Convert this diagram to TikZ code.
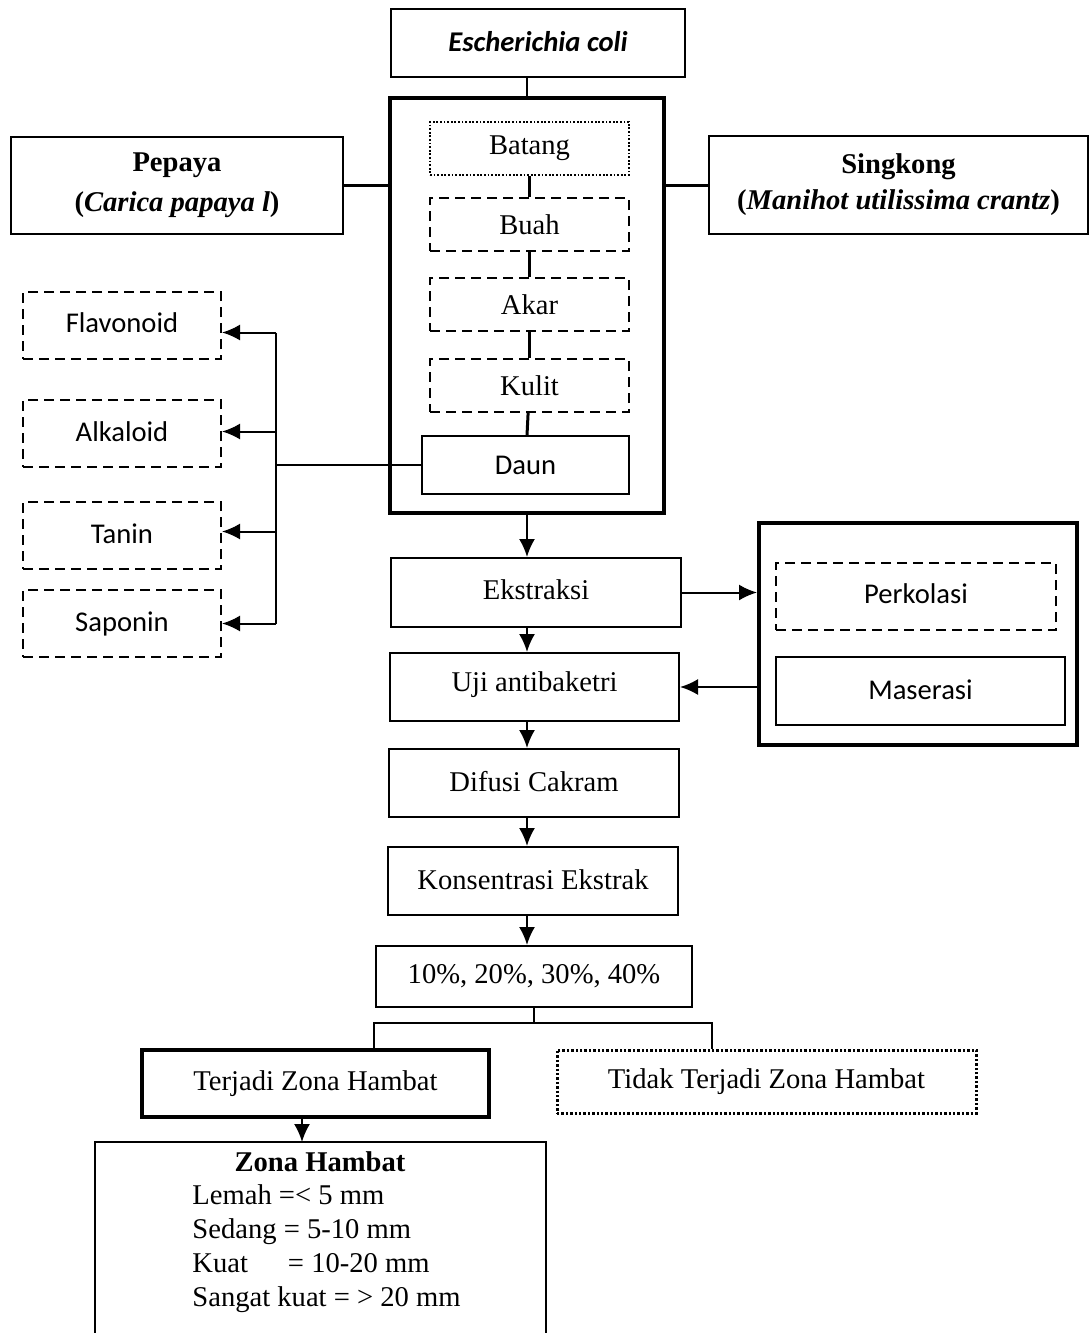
\documentclass[tikz,border=0pt]{standalone}
\usepackage{fontspec}
\setmainfont{Liberation Serif}
\newfontfamily\calibri{Carlito}
\usetikzlibrary{positioning,arrows.meta}

\begin{document}
\begin{tikzpicture}[x=0.5pt,y=-0.5pt,
    every node/.style={font=\fontsize{14.3}{17}\selectfont},
    sans/.style={font=\calibri\fontsize{14.3}{17}\selectfont},
    box/.style={draw,line width=1pt,inner sep=0pt},
    thick box/.style={draw,line width=2pt,inner sep=0pt},
    dash box/.style={draw,line width=1pt,dash pattern=on 5pt off 3pt,inner sep=0pt},
    dot box/.style={draw,line width=0.9pt,dash pattern=on 0.9pt off 0.9pt,inner sep=0pt},
    link/.style={line width=1.5pt},
    arrow/.style={-{Latex[length=9pt,width=8pt]},line width=1pt}]
  \useasboundingbox (0,0) rectangle (1090,1333);

  % top: bacteria and plants
  \node[box,minimum width=147pt,minimum height=34pt,font=\calibri\bfseries\itshape\fontsize{14.3}{17}\selectfont] (ecoli) at (538,43) {\raisebox{1.5pt}{Escherichia coli}};
  \node[thick box,minimum width=137pt,minimum height=207.5pt] (plant) at (527,305.5) {};
  \node[box,minimum width=166pt,minimum height=48.5pt,align=center,font=\bfseries\fontsize{14.3}{20}\selectfont] (pepaya) at (177,185.5) {Pepaya\\(\textit{Carica papaya l})};
  \node[box,minimum width=189.5pt,minimum height=49pt,align=center,font=\bfseries\fontsize{14.3}{18}\selectfont] (singkong) at (898.5,185) {Singkong\\(\textit{Manihot utilissima crantz})};

  \node[dot box,minimum width=99.5pt,minimum height=26.5pt] (batang) at (529.5,148.5) {Batang};
  \node[dash box,minimum width=99.5pt,minimum height=26.5pt] (buah) at (529.5,224.5) {Buah};
  \node[dash box,minimum width=99.5pt,minimum height=26.5pt] (akar) at (529.5,304.5) {Akar};
  \node[dash box,minimum width=99.5pt,minimum height=26.5pt] (kulit) at (529.5,385.5) {Kulit};
  \node[box,sans,minimum width=103.5pt,minimum height=29pt] (daun) at (525.5,465) {Daun};

  % compounds
  \node[dash box,sans,minimum width=99pt,minimum height=33.5pt] (flavonoid) at (122,325.5) {\raisebox{2.5pt}{Flavonoid}};
  \node[dash box,sans,minimum width=99pt,minimum height=33.5pt] (alkaloid) at (122,433.5) {\raisebox{2pt}{Alkaloid}};
  \node[dash box,sans,minimum width=99pt,minimum height=33.5pt] (tanin) at (122,535.5) {\raisebox{2pt}{Tanin}};
  \node[dash box,sans,minimum width=99pt,minimum height=33.5pt] (saponin) at (122,623.5) {\raisebox{1.5pt}{Saponin}\hspace{30pt}};
  \coordinate (bus) at (276,467);

  % main steps
  \node[box,minimum width=145pt,minimum height=34.5pt] (ekstraksi) at (536,592.5) {\raisebox{2.5pt}{Ekstraksi}};
  \node[box,minimum width=144.5pt,minimum height=34pt] (uji) at (534.5,687) {\raisebox{5pt}{Uji antibaketri}};
  \node[box,minimum width=145pt,minimum height=34pt] (difusi) at (534,783) {\raisebox{1.5pt}{Difusi Cakram}};
  \node[box,minimum width=145pt,minimum height=34pt] (konsentrasi) at (533,881) {\raisebox{1.5pt}{Konsentrasi Ekstrak}};
  \node[box,minimum width=158pt,minimum height=30.5pt] (persen) at (534,976.5) {10\%, 20\%, 30\%, 40\%};

  % methods
  \node[thick box,minimum width=159pt,minimum height=111pt] (metode) at (918,634) {};
  \node[dash box,sans,minimum width=140pt,minimum height=33.5pt] (perkolasi) at (916,596.5) {\raisebox{2.5pt}{Perkolasi}};
  \node[box,sans,minimum width=144.5pt,minimum height=34pt] (maserasi) at (920.5,691) {\raisebox{1pt}{Maserasi}};

  % results
  \node[draw,line width=2pt,inner sep=0pt,minimum width=173.5pt,minimum height=33.5pt] (terjadi) at (315.5,1083.5) {Terjadi Zona Hambat};
  \node[draw,line width=1.5pt,dash pattern=on 1.2pt off 1pt,inner sep=0pt,minimum width=209.5pt,minimum height=31.5pt] (tidak) at (766.5,1081.5) {Tidak Terjadi Zona Hambat};
  \coordinate (forkL) at (374,1023);
  \coordinate (forkR) at (712,1023);
  \coordinate (zonatop) at (302,1142);
  \draw[line width=0.8pt] (95,1333) -- (95,1142) -- (546,1142) -- (546,1333);
  \node[font=\bfseries\fontsize{14.3}{17}\selectfont] (zona) at (320,1162) {Zona Hambat};
  \node[anchor=north west,align=left,inner sep=0pt] (kriteria) at (192,1184) {Lemah =< 5 mm\\Sedang = 5-10 mm\\Kuat\hspace{20pt}= 10-20 mm\\Sangat kuat = > 20 mm};

  % connectors
  \draw[line width=1pt] (plant.north |- ecoli.south) -- (plant.north);
  \draw[line width=1.5pt] (pepaya.east) -- (pepaya.east -| plant.west);
  \draw[line width=1.5pt] (plant.east |- singkong.west) -- (singkong.west);
  \path[link]
    (batang) edge (buah)
    (buah) edge (akar)
    (akar) edge (kulit)
    (kulit) edge (daun);
  \draw[line width=0.8pt] (daun.west) -- (daun.west -| bus);
  \draw[line width=1pt] ([yshift=-3.5pt]bus |- flavonoid.east) -- (bus |- saponin.east);
  \path[arrow]
    ([yshift=-3.5pt]bus |- flavonoid.east) edge ([yshift=-3.5pt]flavonoid.east)
    ([yshift=1pt]bus |- alkaloid.east) edge ([yshift=1pt]alkaloid.east)
    ([yshift=2pt]bus |- tanin.east) edge ([yshift=2pt]tanin.east)
    (bus |- saponin.east) edge (saponin.east);
  \path[arrow]
    (plant.south) edge (plant.south |- ekstraksi.north)
    (plant.south |- ekstraksi.south) edge (plant.south |- uji.north)
    (plant.south |- uji.south) edge (plant.south |- difusi.north)
    (plant.south |- difusi.south) edge (plant.south |- konsentrasi.north)
    (plant.south |- konsentrasi.south) edge (plant.south |- persen.north)
    (ekstraksi.east) edge (ekstraksi.east -| metode.west)
    (metode.west |- uji.east) edge (uji.east)
    (zonatop |- terjadi.south) edge (zonatop);
  \draw[line width=1pt] (persen.south) -- (persen.south |- forkL);
  \draw[line width=1pt] (forkL |- terjadi.north) -- (forkL) -- (forkR) -- (forkR |- tidak.north);
\end{tikzpicture}
\end{document}
